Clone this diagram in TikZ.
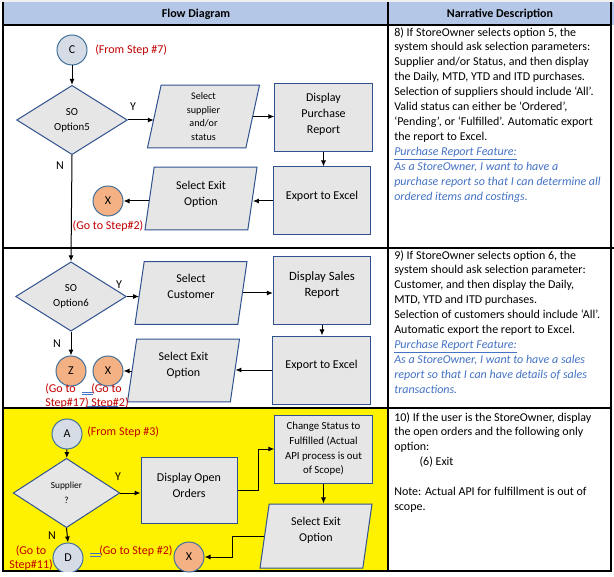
\documentclass[tikz,border=0pt]{standalone}
\usepackage{fontspec}
\setmainfont{Carlito}
\usetikzlibrary{shapes.geometric,arrows.meta}

\definecolor{hdrblue}{HTML}{B4C7E7}
\definecolor{boxgray}{HTML}{E7E6E6}
\definecolor{boxline}{HTML}{2F528F}
\definecolor{circfill}{HTML}{D6DCE5}
\definecolor{circline}{HTML}{41719C}
\definecolor{xfill}{HTML}{F4B183}
\definecolor{stepred}{HTML}{C00000}
\definecolor{storyblue}{HTML}{4472C4}

\newcommand{\storyln}[1]{\textcolor{storyblue}{\itshape #1}}
% box text sits a little above the middle of its box
\newcommand{\lift}[2]{\raisebox{#1}[\height][\depth]{\begin{tabular}{@{}c@{}}#2\end{tabular}}}

\tikzset{
    circ/.style={circle, draw=circline, fill=circfill, line width=0.75pt, minimum size=22.5pt, inner sep=0pt, font=\fontsize{9}{10}\selectfont},
    exitcirc/.style={circ, fill=xfill},
    decision/.style={diamond, draw=boxline, fill=boxgray, line width=0.75pt, minimum width=83pt, minimum height=52pt, inner sep=0pt, align=center, font=\fontsize{8.1}{11.2}\selectfont},
    procbox/.style={rectangle, draw=boxline, fill=boxgray, line width=0.75pt, minimum width=73pt, minimum height=51pt, inner sep=0pt, align=center, font=\fontsize{9}{12}\selectfont},
    iobox/.style={trapezium, trapezium left angle=74, trapezium right angle=106, trapezium stretches body, draw=boxline, fill=boxgray, line width=0.75pt, minimum width=84pt, minimum height=47pt, inner sep=0pt, align=center, font=\fontsize{9}{12}\selectfont},
    steplbl/.style={text=stepred, inner sep=0pt, font=\fontsize{9}{10.5}\selectfont},
    yn/.style={inner sep=0pt, font=\fontsize{9}{10}\selectfont},
    story/.style={anchor=north west, inner sep=0pt, align=left, font=\fontsize{9}{11.2}\selectfont},
    hdr/.style={inner sep=0pt, font=\bfseries\fontsize{9}{10}\selectfont},
    flow/.style={->, line width=0.75pt},
    linkmark/.style={storyblue, line width=0.5pt}
}

\begin{document}
\begin{tikzpicture}[x=0.75pt, y=-0.75pt, >={Latex[length=4.5pt, width=3.8pt]}]
        \useasboundingbox (0, 0) rectangle (614, 577);

        % table
        \fill [black!6] (0, 0) rectangle (614, 2);
        \fill [hdrblue] (3, 2) rectangle (614, 25);
        \fill [yellow] (3, 408) rectangle (388, 571);
        \draw [line width=0.9pt] (3, 2) -- (3, 571) -- (611, 571) -- (611, 2);
        \draw [line width=0.9pt] (388, 2) -- (388, 571);
        \draw [line width=0.9pt] (3, 25) -- (611, 25);
        \draw [line width=0.9pt] (3, 248) -- (614, 248);
        \draw [line width=0.9pt] (3, 408) -- (611, 408);

        \node [hdr] (hdrflow) at (196, 14) {Flow Diagram};
        \node [hdr] (hdrtext) at (500, 14) {Narrative Description};

        % row 1: option 5
        \node [circ] (c) at (72, 50) {C};
        \node [steplbl, anchor=west] (fromc) at (95, 50) {(From Step \#7)};
        \node [decision] (opt5) at (72, 120) {SO\\Option5};
        \node [iobox, font=\fontsize{7.6}{10.1}\selectfont] (supp) at (203.5, 116.5) {Select\\supplier\\and/or\\status};
        \node [procbox] (purch) at (323.5, 118) {\lift{3pt}{Display\\Purchase\\Report}};
        \node [procbox] (xls1) at (322, 201) {\lift{3.5pt}{Export to Excel}};
        \node [iobox] (exit1) at (201, 198.5) {\lift{3pt}{Select Exit\\Option}};
        \node [exitcirc] (x1) at (108, 201) {X};
        \node [steplbl] (gox1) at (108, 226) {(Go to Step\#2)};
        \node [yn] (y5) at (133, 107) {Y};
        \node [yn] (n5) at (60, 166) {N};

        \draw [flow] (c) -- (opt5);
        \draw [flow] (opt5.east) -- (opt5.east -| supp.west);
        \draw [flow] (supp.east) -- (supp.east -| purch.west);
        \draw [flow] (purch.south) -- (purch.south |- xls1.north);
        \draw [flow] (xls1.west) -- (xls1.west -| exit1.east);
        \draw [flow] (exit1.west |- x1) -- (x1.east);

        % row 2: option 6
        \node [decision] (opt6) at (71, 296.5) {SO\\Option6};
        \node [iobox] (cust) at (191, 293) {\lift{4.5pt}{Select\\Customer}};
        \node [procbox, font=\fontsize{9.5}{12}\selectfont] (sales) at (322, 290.5) {\lift{4pt}{Display Sales\\Report}};
        \node [procbox] (xls2) at (321.5, 370) {\lift{3.5pt}{Export to Excel}};
        \node [iobox] (exit2) at (183.5, 370.5) {\lift{4pt}{Select Exit\\Option}};
        \node [exitcirc] (x2) at (108, 371) {X};
        \node [exitcirc] (z) at (71, 371) {Z};
        \node [steplbl, anchor=west, align=left] (goz) at (45, 396) {(Go to\\Step\#17)};
        \node [steplbl, anchor=west, align=left] (gox2) at (91, 396) {(Go to\\Step\#2)};
        \node [yn] (y6) at (119, 285) {Y};
        \node [yn] (n6) at (57, 344) {N};
        \draw [linkmark] (82, 392) -- (93, 392) (82, 394.5) -- (93, 394.5);
        \draw [linkmark] (87, 406.5) -- (118, 406.5);

        \draw [flow] (opt5.south) -- (opt6.north);
        \draw [flow] (opt6.east) -- (opt6.east -| cust.west);
        \draw [flow] (cust.east) -- (cust.east -| sales.west);
        \draw [flow] (sales.south) -- (sales.south |- xls2.north);
        \draw [flow] (xls2.west) -- (xls2.west -| exit2.east);
        \draw [flow] (exit2.west |- x2) -- (x2.east);
        \draw [flow] (opt6.south) -- (z.north);

        % row 3: supplier
        \node [circ] (a) at (67, 434) {A};
        \node [steplbl, anchor=west] (froma) at (87, 432) {(From Step \#3)};
        \node [decision, font=\fontsize{7}{11.2}\selectfont, minimum width=80pt] (supq) at (66.5, 493) {Supplier\\?};
        \node [procbox, minimum width=72pt, minimum height=50pt] (openord) at (189, 490.5) {\lift{3.4pt}{Display Open\\Orders}};
        \node [procbox, font=\fontsize{8.1}{11}\selectfont] (fulfil) at (323.5, 449) {Change Status to\\Fulfilled (Actual\\API process is out\\of Scope)};
        \node [iobox, minimum height=48pt] (exit3) at (316, 536) {\lift{4.5pt}{Select Exit\\Option}};
        \node [exitcirc] (x3) at (189, 557) {X};
        \begin{scope}
            \clip (0, 0) rectangle (614, 571);
            \node [circ] (d) at (68, 558) {D};
        \end{scope}
        \node [steplbl, align=center] (god) at (31, 558) {(Go to\\Step\#11)};
        \node [steplbl, anchor=west] (gox3) at (99, 551) {(Go to Step \#2)};
        \node [yn] (ysup) at (118, 477) {Y};
        \node [yn] (nsup) at (52, 536) {N};
        \draw [linkmark] (90, 553.5) -- (101, 553.5) (90, 556) -- (101, 556);

        \draw [flow] (a) -- (supq);
        \draw [flow] (supq.east) -- (supq.east -| openord.west);
        \draw [flow] (openord.east) -- ++(21, 0) |- (fulfil.west);
        \draw [flow] (fulfil.south) -- (fulfil.south |- exit3.north);
        \draw [flow] (exit3.west) -- ++(-32, 0) |- (x3.east);
        \draw [flow] (supq.south) -- (d.north);

        % narrative
        \node [story] (txt8) at (394, 27) {8) If StoreOwner selects option 5, the\\
            system should ask selection parameters:\\
            Supplier and/or Status, and then display\\
            the Daily, MTD, YTD and ITD purchases.\\
            Selection of suppliers should include ‘All’.\\
            Valid status can either be ‘Ordered’,\\
            ‘Pending’, or ‘Fulfilled’. Automatic export\\
            the report to Excel.\\
            \storyln{\underline{Purchase Report Feature:}}\\
            \storyln{As a StoreOwner, I want to have a}\\
            \storyln{purchase report so that I can determine all}\\
            \storyln{ordered items and costings.}};
        \node [story] (txt9) at (394, 250) {9) If StoreOwner selects option 6, the\\
            system should ask selection parameter:\\
            Customer, and then display the Daily,\\
            MTD, YTD and ITD purchases.\\
            Selection of customers should include ‘All’.\\
            Automatic export the report to Excel.\\
            \storyln{\underline{Purchase Report Feature:}}\\
            \storyln{As a StoreOwner, I want to have a sales}\\
            \storyln{report so that I can have details of sales}\\
            \storyln{transactions.}};
        \node [story] (txt10) at (394, 412) {10) If the user is the StoreOwner, display\\
            the open orders and the following only\\
            option:\\
            \hspace*{19pt}(6) Exit\\[11.2pt]
            Note: Actual API for fulfillment is out of\\
            scope.};
    \end{tikzpicture}
\end{document}
